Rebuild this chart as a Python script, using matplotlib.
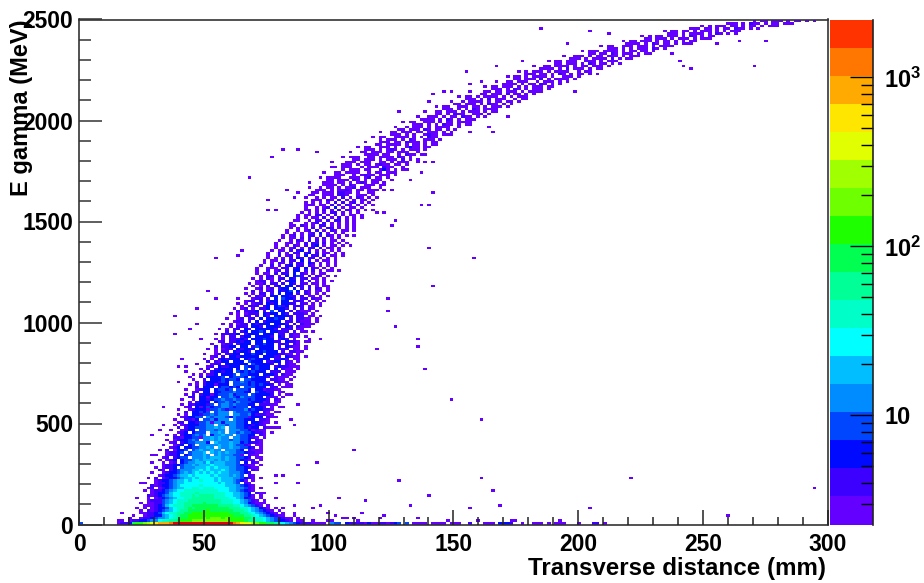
import numpy as np
import matplotlib
matplotlib.use("Agg")
import matplotlib.pyplot as plt
from matplotlib.colors import ListedColormap, LogNorm
from matplotlib.ticker import FixedLocator, FixedFormatter, NullFormatter

plt.rcParams['font.family'] = ['Liberation Sans', 'DejaVu Sans']
plt.rcParams['font.weight'] = 'bold'
plt.rcParams['mathtext.fontset'] = 'custom'
plt.rcParams['mathtext.bf'] = 'Liberation Sans:bold'
plt.rcParams['mathtext.rm'] = 'Liberation Sans:bold'

X_LABEL = "Transverse distance (mm)"
Y_LABEL = "E gamma (MeV)"
X_TICKS = [0, 50, 100, 150, 200, 250, 300]
Y_TICKS = [0, 500, 1000, 1500, 2000, 2500]
N_BINS = 200
COUNT_MIN, COUNT_MAX = 2.26, 2200.0

PALETTE = ['#6400ff', '#3c00ff', '#000aff', '#0046ff', '#008cff', '#00beff',
           '#00ffff', '#00ffc8', '#00ff96', '#00ff50', '#1eff00', '#6eff00',
           '#a0ff00', '#e1ff00', '#ffe600', '#ffaa00', '#ff7700', '#ff3300']
OVER_COLOR = '#e60000'

# colour-band code of a cell -> count read on the colour scale
CODES = '123456789abcdefghij'
COUNTS = [2.74, 4.01, 5.88, 8.62, 12.6, 18.5, 27.1, 39.8, 58.3, 85.4, 125,
          183, 269, 394, 578, 847, 1241, 1819, 2500]

# energy row -> (first column, cells); '.' = empty cell
ROWS = {
 0: (0, "4.........1223abbcdefggghjjjjjjjjjjjjjjjjhgfeedcbbaa98765432221111.544.322221311221234.4.1111.1111.111..2...111.3332..1..111.1.111...1...22.1"),
 1: (10, "11.1223345578899abbbccccccccccbbbba998876543321.11..1...11"),
 2: (13, "1..12234556789aabbbbcbcccbcbbbbaa98876543211.1"),
 3: (14, "1..1223356789aabbbbbbbbbbbbaaa99876543211..1"),
 4: (11, "1....112234678899aabbbbbbbbbbaaa9987654321.1..1"),
 5: (16, "1.21234567899aaaaabaaaaaa99987654321.1"),
 6: (15, "1.1.1233467889a9aaaaaaaaa99988765321.1.1"),
 7: (17, "1112346788899aaaaaaa999988765421.1"),
 8: (16, "1.112245678899999a999988877653211"),
 9: (18, "122245678889999999998887765421.1"),
 10: (15, "1..1.123456778899999988887765321.1"),
 11: (18, "21234567788898999988877665431.1"),
 12: (19, "123346778888988888887766543.21"),
 13: (17, "1.1223456778888888887776654321"),
 14: (18, "12.12345667788788877776655421.1"),
 15: (19, "2123345677777877777766654321"),
 16: (17, "1..12234566777777777676654.21"),
 17: (20, "1233456676778777676665431.1"),
 18: (18, "1.2.1233456676777767666554321.1"),
 19: (21, "12334566767777676665654.21"),
 20: (19, "1..123345656767676766555432"),
 21: (21, "21.234555667676667655443.21"),
 22: (20, "1.1223.455566676766655443211"),
 23: (22, "1223345565666766655543211.1"),
 24: (19, "1..1.12.3455665756665554.3.21"),
 25: (21, "1.123.34456566656565543212.1"),
 26: (22, "12.2344.5556566656554432.11"),
 27: (20, "1..1223.3455565.56555441.211"),
 28: (23, "12234.45556.65656554432211"),
 29: (21, "1.2.1334.45655655.55543.2111"),
 30: (24, "123.33445565.6556554432.1"),
 31: (22, "1..123.34.55555655654421.11"),
 32: (24, "12.23445553.6555655343221"),
 33: (23, "1.1233454.5565655455443.21"),
 34: (25, "221334415565655.5544321.1"),
 35: (23, "1.1.2334545.355655.54433.21"),
 36: (26, "123.3444.5565.5545443221.1"),
 37: (24, "1..1233.4455455.5554431211"),
 38: (26, "2.23344455656.55443233.2111"),
 39: (25, "1.123334455.5545544332321"),
 40: (26, "12.3324451553555443.33211.1"),
 41: (25, "1..2213.4453555.544333.221"),
 42: (27, "123344.545554354441333.211"),
 43: (26, "1.1.3324454555.55445322211"),
 44: (28, "2.33434.4555.5444433.21.11"),
 45: (26, "1..12333144542444453433221"),
 46: (28, "12.31343445543444.3332.1.11"),
 47: (27, "1.2133324.4554544433.22211"),
 48: (29, "1.2333.344543544433312.11"),
 49: (27, "1..1.3323445445444343332.21"),
 50: (29, "22.33133.44543544433.221.1"),
 51: (28, "1.2.2331344453444.433332.1.11"),
 52: (30, "12.33.3344454433.43322.11"),
 53: (28, "1..1233.34434.4443.3312211"),
 54: (31, "2.333.344343.444333.22.111"),
 55: (29, "1.1.2331333.44443434332.1.11"),
 56: (31, "1.2333243.4454343332.2211"),
 57: (30, "1..2.33343443.443333.2211.1"),
 58: (32, "2.33334.34443.43332.2111.1"),
 59: (30, "1.1.123.3334.44333.3332.211"),
 60: (33, "1.233233.43434333.222.111"),
 61: (32, "1.2.23333.3.4.34333.3.211.1"),
 62: (34, "12.322333.4334333.2322111"),
 63: (31, "1...122.333333.433332.2.211"),
 64: (34, "2.2133.333.4333.2233.21.1"),
 65: (33, "1.1.232333.3243333.2232.11"),
 66: (35, "12.2.33233333.33322.3211.1"),
 67: (33, "1..12.2233.33433.3332211.1"),
 68: (36, "1.22.32332.334333.2.2211"),
 69: (34, "1.1.122.32333.3333.222.11.1"),
 70: (36, "2.2233.33.243333.2.3211.1"),
 71: (35, "1..122.2333.33433.222.21"),
 72: (37, "12.223233.33.3322.3221.11"),
 73: (36, "1.1.22232.333433.232.1"),
 74: (38, "1.22.233.33332.32.211.1"),
 75: (25, "1..........1.22223.2333.333.22.211"),
 76: (39, "2.2.23.3343.33222.2.11.1"),
 77: (37, "1.1.22.32.333332.222.11"),
 78: (40, "1.222.332.3332.32.2111"),
 79: (38, "1.1.122.32333.3332.2.211"),
 80: (41, "122.2.3.23333.22.2111.1"),
 81: (39, "1..12.22.3.33433.2.2211.1"),
 82: (42, "1.22.2.32.33332.22.11.1"),
 83: (40, "1.1.1222.3233.32.2221.1"),
 84: (42, "2.2223.2.4.33.2.2111.1"),
 85: (41, "1.12.1.223.3332.2.2.21"),
 86: (43, "1.222.23.3423.222.11.1"),
 87: (42, "1.1.122.323.3322.21.1.1"),
 88: (44, "122.2.233.33.222.1.1.1"),
 89: (42, "1...122.2.3.4332.22.211"),
 90: (45, "1.212.33.3322.2.11.1.1"),
 91: (44, "1.1.22.2.3.33.2.21.1.1"),
 92: (46, "2.1.22.3234.3.21.11.1"),
 93: (44, "1..12.12.233.3.2.2.21.1"),
 94: (46, "1.1.2.23.33.22.2.1.11"),
 95: (45, "1.112.22.2.32.21.11.1"),
 96: (47, "122.1.2.233.2.2.1.1.1"),
 97: (46, "1.1.21.22.32.22.11.1"),
 98: (48, "1.22.1.3.342.2.21.1.1"),
 99: (47, "1.11.2.22.3.21.1.11"),
 100: (47, "1..2.12.2.33.2.2.1.11.1"),
 101: (47, "1..111.22.23.3.21.1.1"),
 102: (48, "1..2.1.23.22.21.1.1.1"),
 103: (49, "1.1.21.2.22.32.1.1.1"),
 104: (49, "1.11.2.22.3.2.1.11.1"),
 105: (50, "1.1.1.2.32.22.1.1.1"),
 106: (50, "1..2.12.1.3.22.2.11.1"),
 107: (50, "1..2.1.22.23.2.11.1.1"),
 108: (51, "1.11.2.23.2.1.1.1.1"),
 109: (52, "1.1.12.1.22.2.11.1"),
 110: (52, "1..1.21.2.23.1.11.1.1"),
 111: (52, "1..11.1.2.22.2.1.1.1"),
 112: (53, "1..1.21.2.2.1.11.1"),
 113: (54, "1.11.2.2.1.2.1.1"),
 114: (54, "1.12.1.22.2.21.1.1.1"),
 115: (55, "1.1.1.12.3.1.1.1"),
 116: (55, "1..1.12.2.1.21.11.1"),
 117: (56, "1.1.1.2.1.22.1.1.1"),
 118: (56, "11.21.1.22.1.1.1.1"),
 119: (56, "1...1.12.2.1.1.1.1"),
 120: (57, "11..1.21.2.22.1.1"),
 121: (58, "1.1.11.2.1.2.1.1.1"),
 122: (58, "1.11.22.1.2.1.11.1"),
 123: (59, "1.1.1.1.22.1.1.1"),
 124: (60, "11.1.2.1.2.21.1.1.1"),
 125: (60, "1..1.12.3.1.11.1"),
 126: (60, "111.11.2.1.21.1.1.1"),
 127: (60, "1.1.1.1.2.2.12.1.1"),
 128: (62, "111.21.2.1.1.11.1"),
 129: (60, "1..1.1.11.2.1.21.1.1"),
 130: (61, "11..111.221..111.1"),
 131: (58, "1...11.111.2211.1..11"),
 132: (63, "111.1.1121.11.111.1"),
 133: (61, "1..1.11.1.112.111..1"),
 134: (65, "1111.1.21..111.11"),
 135: (61, "1...111.11.1.121.11.1"),
 136: (66, "11.111.21.1.111..1"),
 137: (64, "1.1111..111.12.11.1"),
 138: (68, "111..1.1211.111.1"),
 139: (65, "1..11.1111..1.11.111"),
 140: (70, "1.111.11..131.1.11"),
 141: (67, "11.111..1.111.211..1"),
 142: (70, "111.1.11.1211.11.1"),
 143: (67, "1...111.111..11.1.111"),
 144: (73, "11.111.1.111.2.1.1"),
 145: (70, "1.111..11.1111.21.1"),
 146: (76, "1111.11..1.211.11"),
 147: (72, "1..11.111.11.111..1"),
 148: (76, "111.1.121.1.111.1"),
 149: (74, "1.11..111.1..1311.11"),
 150: (79, "11.1111.1.11.1.11"),
 151: (76, "1...111.11.2111.1.11"),
 152: (80, "1.111.1.21..111.1"),
 153: (78, "1.11..1111.1.1.211"),
 154: (83, "111.1.1..1211.1.1"),
 155: (80, "1..11.111.11.111.1.1"),
 156: (85, "11.111.21.11.1.1"),
 157: (84, "1..1.111.1.1111..1"),
 158: (89, "111.1.1.211.1.11"),
 159: (86, "1.11..111.1.11.1111"),
 160: (91, "1111.1.21.1.111"),
 161: (90, "1..111.1.11.211.1.1"),
 162: (95, "11.1.211..111.1"),
 163: (92, "1..11.111.1.111.1.11"),
 164: (97, "111.1.1.21.1111"),
 165: (95, "1.11..111.11.1.111.1"),
 166: (100, "11.111.1.211.1.1"),
 167: (99, "1..1.1111.1.11.11.1"),
 168: (103, "111.1.2.111..1.11"),
 169: (101, "1.11.1.1111.1.1.111"),
 170: (107, "11.111.2.11.1.1"),
 171: (104, "1...11.11.111.1.1111"),
 172: (110, "111.1.21.1.111.1"),
 173: (108, "1.11.111.1.1.111.11"),
 174: (113, "1111.1.11.21.1.1"),
 175: (111, "1..11.111..1.111.1.1"),
 176: (116, "11.111.2.1.1111.1"),
 177: (114, "1.11.1.1111.1..111.1"),
 178: (119, "111.11.1.21.1.11.1"),
 179: (117, "1.1.111.1.1111..1.11"),
 180: (123, "1111.1.2.111.1.11"),
 181: (121, "1..11.1111.1.11.111.1"),
 182: (127, "11.111.1.21.11.1.1"),
 183: (125, "1.11.111..111.1.111"),
 184: (131, "111.1.1111.2.1.11"),
 185: (129, "1..111.1.11.111.1.111"),
 186: (136, "11.11.21.111.1.11"),
 187: (134, "1.111.1111.1.11.11.1"),
 188: (141, "111.1.1.111.21.1"),
 189: (139, "1.11..111.111.1.1111"),
 190: (146, "1111.1.21.11.1.111"),
 191: (145, "1.11.111.1.11.1.1.11"),
 192: (151, "11.111.1.111.1.111"),
 193: (150, "1.1.11.111.1.21.1.11"),
 194: (157, "111.1.1111.1.21.1.1"),
 195: (156, "1.11.11.1.111.1.1.111"),
 196: (163, "111.11.1.11.211.1.1"),
 197: (166, "1.1.111.11.1.11.1.111"),
 198: (173, "111.1.211.1.11.111"),
 199: (180, "1.11.111.1.11.1.1"),
}

# isolated cells away from the main band
STRAY_COLS = [73, 63, 85, 107, 147, 110, 93, 196, 69, 76, 64, 88, 112, 62, 104, 136, 66, 75,
              68, 81, 173, 70, 71, 73, 80, 90, 74, 98, 106, 115, 116, 128,
              99, 107, 92, 105, 93, 94, 82, 82, 84, 79, 90, 90, 84,
              25, 45, 51, 54, 58, 123, 130, 136, 141, 161, 163, 180,
              63, 55, 57, 50, 52, 50, 94, 91, 83, 93, 91, 81, 79, 83, 94, 92, 90, 88,
              36, 42, 43, 31, 31, 29, 32, 27, 26, 28, 28, 29, 26, 34, 36, 62, 61, 64, 56,
              22, 25, 22, 19, 21, 19, 20, 19, 16, 18, 58, 56, 57, 53, 58, 52, 54, 52, 58, 52, 57, 53, 49, 49,
              103, 111, 118, 94, 97, 99, 93, 85, 114, 109, 110, 104, 106, 98, 132, 107, 104,
              183, 170, 176, 138, 160, 158]
STRAY_ROWS = [29, 24, 17, 18, 18, 13, 11, 14, 10, 9, 7, 7, 7, 6, 6, 6, 4, 4,
              3, 3, 3, 2, 2, 2, 2, 2, 1, 1, 1, 1, 1, 1,
              49, 41, 61, 105, 109, 94, 89, 84, 78, 69, 73, 70, 120,
              82, 137, 145, 148, 148, 196, 190, 195, 194, 181, 180, 181,
              147, 132, 129, 128, 124, 124, 131, 139, 132, 126, 126, 123, 123, 118, 143, 143, 143, 136,
              105, 106, 108, 85, 79, 77, 73, 65, 62, 62, 60, 58, 56, 92, 89, 79, 73, 73, 64,
              46, 41, 39, 35, 37, 27, 22, 20, 16, 18, 47, 41, 39, 38, 23, 19, 19, 16, 16, 10, 7, 5, 12, 8,
              179, 181, 183, 170, 171, 171, 167, 163, 161, 157, 155, 155, 161, 154, 171, 175, 174,
              191, 190, 191, 178, 183, 186]

grid = np.full((N_BINS, N_BINS), np.nan)
for c, r in zip(STRAY_COLS, STRAY_ROWS):
    grid[r, c] = COUNTS[0]
for r, (start, cells) in ROWS.items():
    for i, ch in enumerate(cells):
        if ch != '.' and start + i < N_BINS:
            grid[r, start + i] = COUNTS[CODES.index(ch)]

W, H = 924, 583
fig = plt.figure(figsize=(W / 100, H / 100), dpi=100)
L, R, T, B = 79.3, 827.5, 19.5, 524.5
ax = fig.add_axes([L / W, 1 - B / H, (R - L) / W, (B - T) / H])

cmap = ListedColormap(PALETTE)
cmap.set_over(OVER_COLOR)
norm = LogNorm(COUNT_MIN, COUNT_MAX)
xe = np.linspace(0, 300, N_BINS + 1)
ye = np.linspace(0, 2500, N_BINS + 1)
mesh = ax.pcolormesh(xe, ye, np.ma.masked_invalid(grid), cmap=cmap, norm=norm,
                     antialiased=False, linewidth=0, rasterized=True)

ax.set_xlim(0, 300)
ax.set_ylim(0, 2500)
ax.set_xticks(X_TICKS)
ax.set_yticks(Y_TICKS)
ax.set_xticks(np.arange(0, 301, 10), minor=True)
ax.set_yticks(np.arange(0, 2501, 100), minor=True)
ax.tick_params(axis='x', which='major', direction='in', length=11, width=1.1, labelsize=16.5, pad=6, color='#222222')
ax.tick_params(axis='x', which='minor', direction='in', length=5.5, width=1.1, color='#222222')
ax.tick_params(axis='y', which='major', direction='in', length=16.5, width=1.1, labelsize=16.5, pad=4.5, color='#333333')
ax.tick_params(axis='y', which='minor', direction='in', length=8.3, width=1.1, color='#333333')
for s in ax.spines.values():
    s.set_linewidth(1.2)
    s.set_color('#333333')
ax.set_axisbelow(False)

fig.text(826 / W, 1 - 568 / H, X_LABEL, ha='right', va='center', fontsize=17.4, fontweight='bold')
fig.text(22 / W, 1 - 108 / H, Y_LABEL, ha='center', va='center', rotation=90, fontsize=17, fontweight='bold')

cax = fig.add_axes([830 / W, 1 - B / H, 43 / W, (B - T) / H])
cb = fig.colorbar(mesh, cax=cax)
cb.outline.set_visible(False)
cax.yaxis.set_ticks_position('right')
cax.yaxis.set_major_locator(FixedLocator([10, 100, 1000]))
cax.yaxis.set_major_formatter(FixedFormatter(['10', r'$\mathbf{10^{2}}$', r'$\mathbf{10^{3}}$']))
minors = [v * d for d in (1, 10, 100) for v in range(2, 10)
          if COUNT_MIN <= v * d <= COUNT_MAX and v * d not in (10, 100, 1000)]
cax.yaxis.set_minor_locator(FixedLocator(minors))
cax.yaxis.set_minor_formatter(NullFormatter())
cax.tick_params(axis='y', which='major', direction='in', length=16.5, width=1.0, labelsize=17, pad=8, color='black')
cax.tick_params(axis='y', which='minor', direction='in', length=8.5, width=1.0, color='black')
cax.plot([1, 1], [0, 1], transform=cax.transAxes, color='#222222', lw=1.2, clip_on=False)

fig.savefig("out.png", dpi=100)
